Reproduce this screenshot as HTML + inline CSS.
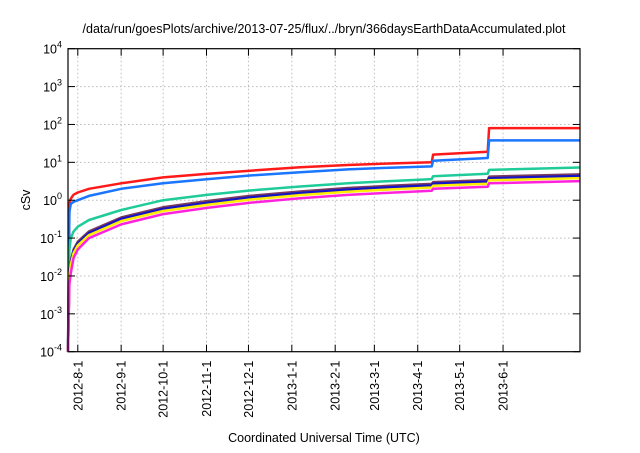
<!DOCTYPE html>
<html><head><meta charset="utf-8"><style>
body{margin:0;background:#fff;}
svg text{font-family:"Liberation Sans",sans-serif;fill:#000;}
</style></head><body>
<svg id="chart" width="640" height="448" xmlns="http://www.w3.org/2000/svg">
<text x="324" y="33" font-size="12.5" text-anchor="middle">/data/run/goesPlots/archive/2013-07-25/flux/../bryn/366daysEarthDataAccumulated.plot</text>
<text x="0" y="0" font-size="12.5" text-anchor="middle" transform="translate(30,200) rotate(-90)">cSv</text>
<text x="324" y="442" font-size="12.5" text-anchor="middle">Coordinated Universal Time (UTC)</text>
<g id="grid"></g><g id="series"></g><g id="axes"></g>
</svg>
<script>
const days = [0,1,2,4,7,15,38,68,100,130,166,200,230,260,261,300,301,366];
const red     = [0.0001,0.8,1.1,1.4,1.6,2.0,2.8,4.0,5.0,6.0,7.4,8.5,9.3,10,16,19,80,80];
const blue    = [0.0001,0.5,0.8,0.9,1.0,1.3,2.0,2.8,3.6,4.5,5.5,6.5,7.2,7.8,11,13,38,38];
const green   = [0.0001,0.05,0.1,0.15,0.2,0.3,0.55,1.0,1.4,1.8,2.3,2.8,3.2,3.6,4.3,5.0,6.3,7.3];
const brown   = [0.0001,0.012,0.025,0.05,0.08,0.15,0.35,0.65,0.95,1.3,1.7,2.1,2.4,2.7,3.0,3.4,4.2,4.8];
const navy    = [0.0001,0.011,0.022,0.045,0.072,0.135,0.32,0.59,0.86,1.18,1.55,1.9,2.2,2.45,2.75,3.1,3.8,4.35];
const yellow  = [0.0001,0.01,0.02,0.04,0.064,0.12,0.28,0.52,0.76,1.04,1.36,1.68,1.92,2.16,2.4,2.72,3.36,3.84];
const magenta = [0.0001,0.006,0.012,0.03,0.05,0.1,0.23,0.43,0.63,0.86,1.12,1.38,1.58,1.78,2.0,2.26,2.8,3.2];
const seriesNames = ['red','blue','green','brown','navy','yellow','magenta'];
const seriesColors = ['#ff1a1a','#1a75ff','#1fcc99','#7a3b5e','#1414c8','#ffee00','#ff22dd'];
const yTickExps = [-4,-3,-2,-1,0,1,2,3,4];
const xTickDays = [7,38,68,99,129,160,191,219,250,280,311];
const xTickLabels = ['2012-8-1','2012-9-1','2012-10-1','2012-11-1','2012-12-1','2013-1-1','2013-2-1','2013-3-1','2013-4-1','2013-5-1','2013-6-1'];

const L=68,R=580,T=48.7,B=351.7,D0=0,D1=366;
const xs=d=>L+(d-D0)/(D1-D0)*(R-L);
const ys=v=>B-(Math.log10(v)+4)/8*(B-T);
const NS='http://www.w3.org/2000/svg';
function mk(tag,attrs,parent){const e=document.createElementNS(NS,tag);for(const k in attrs)e.setAttribute(k,attrs[k]);parent.appendChild(e);return e;}
const grid=document.getElementById('grid'),ser=document.getElementById('series'),ax=document.getElementById('axes');
yTickExps.forEach(e=>{
  const y=ys(Math.pow(10,e));
  if(e>-4&&e<4){const g=mk('line',{x1:L,x2:R,y1:y,y2:y,stroke:'#bbb','stroke-dasharray':'1.5,2.5','stroke-width':1},grid);
  
  }
  const t1=mk('line',{x1:L,x2:L+7,y1:y,y2:y,stroke:'#000'},ax);
  
  
  const t2=mk('line',{x1:R,x2:R-7,y1:y,y2:y,stroke:'#000'},ax);
  
  
  const tx=mk('text',{x:L-6,y:y+5,'font-size':'12.5','text-anchor':'end'},ax);
  
  
  tx.textContent='10';
  const sp=mk('tspan',{dy:-6,'font-size':'9'},tx);sp.textContent=String(e);
});
xTickDays.forEach((d,i)=>{
  const x=xs(d);
  const g=mk('line',{x1:x,x2:x,y1:T,y2:B,stroke:'#bbb','stroke-dasharray':'1.5,2.5','stroke-width':1},grid);
  
  
  const t1=mk('line',{x1:x,x2:x,y1:B,y2:B-7,stroke:'#000'},ax);
  
  
  const t2=mk('line',{x1:x,x2:x,y1:T,y2:T+7,stroke:'#000'},ax);
  
  
  const tx=mk('text',{x:0,y:0,'font-size':'12.5','text-anchor':'end',transform:`translate(${x+4.5},${B+9}) rotate(-90)`},ax);
  
  
  tx.textContent=xTickLabels[i];
});
const fr=mk('rect',{x:L,y:T,width:R-L,height:B-T,fill:'none',stroke:'#000','stroke-width':1.2},ax);


[red,blue,green,brown,navy,yellow,magenta].forEach((vals,i)=>{
  const pts=days.map((d,j)=>xs(d).toFixed(1)+','+ys(vals[j]).toFixed(1)).join(' ');
  const p=mk('polyline',{points:pts,fill:'none',stroke:seriesColors[i],'stroke-width':2.5,'stroke-linejoin':'round'},ser);
  
  
});
</script>
</body></html>
